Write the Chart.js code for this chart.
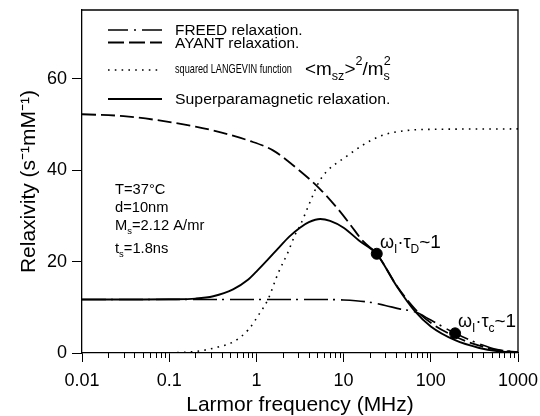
<!DOCTYPE html>
<html><head><meta charset="utf-8">
<script src="https://cdn.jsdelivr.net/npm/chart.js@4.4.0/dist/chart.umd.min.js"></script>
<style>html,body{margin:0;padding:0;background:#fff;} #wrap{width:540px;height:416px;position:relative;}</style>
</head><body><div id="wrap"><canvas id="c" width="540" height="416"></canvas></div>
<script>
const FONT = '"Liberation Sans", Arial, Helvetica, sans-serif';

// FREED relaxation (dash-dot)
const freedFreq  = [0.01, 0.1, 1, 5, 10, 20, 30, 45, 66, 100, 190, 360, 600, 1000];
const freedRelax = [11.7, 11.7, 11.7, 11.7, 11.6, 11.1, 10.4, 9.6, 9.0, 7.2, 4.3, 2.0, 0.7, 0.2];

// AYANT relaxation (long dash)
const ayantFreq  = [0.01, 0.03, 0.08, 0.2, 0.4, 0.8, 1.55, 3.16, 5.4, 8.6, 12, 16.6, 24, 41, 66, 100, 190, 360, 600, 1000];
const ayantRelax = [52.2, 51.8, 50.8, 49.5, 48.2, 46.5, 44.3, 39.8, 35.8, 31.5, 28.0, 24.5, 21.7, 14.6, 9.6, 6.6, 3.6, 1.6, 0.6, 0.2];

// squared Langevin function (dotted)
const langevinFreq  = [0.01, 0.1, 0.19, 0.25, 0.36, 0.54, 0.8, 1.1, 1.35, 1.78, 2.3, 2.8, 3.16, 4.1, 5.4, 10.8, 26, 50, 100, 1000];
const langevinRelax = [0, 0.05, 0.3, 0.6, 1.3, 2.4, 5.0, 8.8, 11.6, 17.5, 22.0, 26.0, 27.8, 32.9, 37.9, 43.0, 47.4, 48.6, 48.9, 49.0];

// Superparamagnetic relaxation (solid)
const spmFreq  = [0.01, 0.05, 0.1, 0.2, 0.32, 0.54, 0.8, 1.0, 1.35, 1.8, 2.4, 3.16, 4.0, 5.4, 7.0, 10, 15, 24, 41, 66, 100, 190, 360, 570, 1000];
const spmRelax = [11.7, 11.7, 11.75, 11.9, 12.4, 13.9, 16.0, 17.8, 20.4, 23.0, 25.5, 27.4, 28.6, 29.3, 28.9, 27.4, 24.6, 21.6, 14.5, 9.1, 5.8, 2.8, 1.1, 0.4, 0.1];

// Marked points
const markerFreq  = [24, 190];
const markerRelax = [21.7, 4.3];

const xTickValues = [0.01, 0.1, 1, 10, 100, 1000];
const xTickLabels = ['0.01', '0.1', '1', '10', '100', '1000'];
const yTickValues = [0, 20, 40, 60];

const pts = (fx, fy) => fx.map((f, i) => ({x: f, y: fy[i]}));

function rich(ctx, x, y, segs, sx) {
  sx = sx || 1;
  let cx = x;
  for (const s of segs) {
    const k = s.sx || sx;
    ctx.font = s.size + 'px ' + FONT;
    ctx.save();
    ctx.translate(cx, y + (s.dy || 0));
    ctx.scale(k, 1);
    ctx.fillText(s.t, 0, 0);
    ctx.restore();
    cx += ctx.measureText(s.t).width * k + (s.gap || 0);
  }
}

const decor = {
  id: 'decor',
  afterDraw(chart) {
    const ctx = chart.ctx;
    const a = chart.chartArea;
    const xs = chart.scales.x;
    ctx.save();
    ctx.strokeStyle = '#000';
    ctx.fillStyle = '#000';
    // frame top & right
    ctx.lineWidth = 1.3;
    ctx.beginPath();
    ctx.moveTo(a.left, a.top); ctx.lineTo(a.right, a.top); ctx.lineTo(a.right, a.bottom);
    ctx.stroke();
    // minor log ticks
    ctx.lineWidth = 1;
    ctx.beginPath();
    for (let e = -2; e < 3; e++) {
      for (let m = 2; m <= 9; m++) {
        const px = Math.round(xs.getPixelForValue(m * Math.pow(10, e))) + 0.5;
        ctx.moveTo(px, a.bottom); ctx.lineTo(px, a.bottom + 5);
      }
    }
    ctx.stroke();
    // legend samples
    const lx0 = 108, lx1 = 162;
    const sample = (y, dash, w) => {
      ctx.setLineDash(dash); ctx.lineWidth = w;
      ctx.beginPath(); ctx.moveTo(lx0, y); ctx.lineTo(lx1, y); ctx.stroke();
    };
    sample(30, [20, 6, 2, 6], 1.6);
    sample(42.5, [16, 5], 1.8);
    sample(70, [1.6, 5.2], 1.6);
    sample(99, [], 1.8);
    ctx.setLineDash([]);
    ctx.textBaseline = 'alphabetic';
    ctx.textAlign = 'left';
    rich(ctx, 175, 35, [{t: 'FREED relaxation.', size: 14}], 1.1);
    rich(ctx, 175, 48, [{t: 'AYANT relaxation.', size: 14}], 1.1);
    rich(ctx, 175, 73, [{t: 'squared LANGEVIN function', size: 13.5}], 0.68);
    rich(ctx, 305, 75, [
      {t: '<m', size: 18}, {t: 'sz', size: 12, dy: 5}, {t: '>', size: 18},
      {t: '2', size: 12, dy: -10}, {t: '/m', size: 18}, {t: 's', size: 12, dy: 5, gap: -6},
      {t: '2', size: 12, dy: -10}
    ], 1.05);
    rich(ctx, 175, 104, [{t: 'Superparamagnetic relaxation.', size: 14}], 1.13);
    // parameter block
    rich(ctx, 115, 194, [{t: 'T=37°C', size: 14}], 1.05);
    rich(ctx, 115, 212, [{t: 'd=10nm', size: 14}], 1.05);
    rich(ctx, 115, 230, [{t: 'M', size: 14}, {t: 's', size: 9, dy: 4}, {t: '=2.12 A/mr', size: 14}], 1.05);
    rich(ctx, 115, 253, [{t: 't', size: 14}, {t: 's', size: 9, dy: 4}, {t: '=1.8ns', size: 14}], 1.05);
    // omega annotations
    rich(ctx, 380, 248, [{t: 'ω', size: 18}, {t: 'I', size: 12, dy: 5}, {t: '·τ', size: 18},
      {t: 'D', size: 12, dy: 5}, {t: '~1', size: 19}]);
    rich(ctx, 458, 327, [{t: 'ω', size: 18}, {t: 'I', size: 12, dy: 5}, {t: '·τ', size: 18},
      {t: 'c', size: 12, dy: 5}, {t: '~1', size: 19}]);
    ctx.restore();
  }
};

const base = {pointRadius: 0, borderColor: '#000', fill: false, cubicInterpolationMode: 'monotone'};

new Chart(document.getElementById('c'), {
  type: 'line',
  data: {
    datasets: [
      Object.assign({label: 'FREED relaxation.', data: pts(freedFreq, freedRelax), borderWidth: 1.6, borderDash: [24, 5, 2, 6]}, base),
      Object.assign({label: 'AYANT relaxation.', data: pts(ayantFreq, ayantRelax), borderWidth: 1.8, borderDash: [14, 5]}, base),
      Object.assign({label: 'squared LANGEVIN function', data: pts(langevinFreq, langevinRelax), borderWidth: 1.6, borderDash: [1.6, 5.2]}, base),
      Object.assign({label: 'Superparamagnetic relaxation.', data: pts(spmFreq, spmRelax), borderWidth: 1.9}, base),
      {label: 'markers', data: pts(markerFreq, markerRelax), showLine: false, pointRadius: 5.5,
       pointBackgroundColor: '#000', pointBorderColor: '#000', borderColor: '#000'}
    ]
  },
  options: {
    responsive: false,
    animation: false,
    layout: {padding: {top: 10, right: 22, left: 0, bottom: 0}},
    plugins: {legend: {display: false}, tooltip: {enabled: false}},
    scales: {
      x: {
        type: 'logarithmic', min: 0.01, max: 1000,
        afterBuildTicks: s => { s.ticks = xTickValues.map(v => ({value: v, major: true})); },
        afterFit: s => { s.height = 63; s.paddingLeft = 0; s.paddingRight = 0; },
        ticks: {autoSkip: false, maxRotation: 0, color: '#000', padding: 8,
                font: {family: FONT, size: 18},
                callback: (v, i) => xTickLabels[i]},
        grid: {drawOnChartArea: false, drawTicks: true, tickLength: 9, color: '#000', tickColor: '#000'},
        border: {display: true, color: '#000', width: 1.3},
        title: {display: true, text: 'Larmor frequency (MHz)', color: '#000',
                font: {family: FONT, size: 21, lineHeight: 1}, padding: {top: 0, bottom: 0}}
      },
      y: {
        min: 0, max: 75,
        afterBuildTicks: s => { s.ticks = yTickValues.map(v => ({value: v})); },
        afterFit: s => { s.width = 82; s.paddingTop = 0; s.paddingBottom = 0; },
        ticks: {color: '#000', padding: 5, font: {family: FONT, size: 18}},
        grid: {drawOnChartArea: false, drawTicks: true, tickLength: 10, color: '#000', tickColor: '#000'},
        border: {display: true, color: '#000', width: 1.3},
        title: {display: true, text: 'Relaxivity (s⁻¹mM⁻¹)', color: '#000',
                font: {family: FONT, size: 21, lineHeight: 1}, padding: {top: 19, bottom: 0}}
      }
    }
  },
  plugins: [decor]
});
</script>
</body></html>
